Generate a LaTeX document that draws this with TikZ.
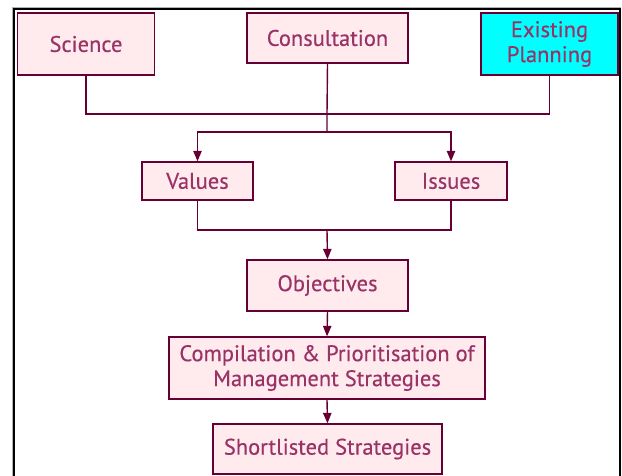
\documentclass[tikz,border=0pt]{standalone}
\usepackage{fontspec}
\setmainfont{PT Sans}
\newfontfamily\stagefont[FakeBold=0.4]{PT Sans}
\usepackage[x11names, rgb]{xcolor}
\usetikzlibrary{arrows}
\definecolor{boxline}{HTML}{660033}
\definecolor{boxtext}{HTML}{993366}
\definecolor{boxfill}{HTML}{FFEAEE}
\definecolor{planfill}{HTML}{00FFFF}

\tikzset{
	stagebox/.style={draw=boxline, line width=1.6pt, fill=boxfill, text=boxtext,
		font=\stagefont\fontsize{22.5}{25}\selectfont, align=center, inner sep=0pt},
	link/.style={draw=boxline, line width=1.4pt},
	flow/.style={link, -triangle 45}
}

\begin{document}
\begin{tikzpicture}[x=1pt, y=-1pt]
	\useasboundingbox (0,0) rectangle (622,475);
	\clip (0,0) rectangle (622,475);
	\draw [gray!60, line width=1pt] (12.5,7.5) rectangle (620.5,490);
	\draw [black, line width=2pt] (14,9) rectangle (619.5,490);
	% top row
	\node (sci) at (86,44) [stagebox, minimum width=137pt, minimum height=62pt] {Science};
	\node (cons) at (327.5,38) [stagebox, minimum width=161pt, minimum height=50pt] {Consultation};
	\node (plan) at (549.5,44) [stagebox, fill=planfill, minimum width=137pt, minimum height=62pt] {Existing\\Planning};
	% middle
	\node (val) at (197.5,181) [stagebox, minimum width=111pt, minimum height=38pt] {Values};
	\node (iss) at (451,181) [stagebox, minimum width=112pt, minimum height=38pt] {Issues};
	\node (obj) at (327.5,285.5) [stagebox, minimum width=161pt, minimum height=51pt] {Objectives};
	\node (comp) at (327,368) [stagebox, minimum width=316pt, minimum height=62pt] {Compilation \& Prioritisation of\\Management Strategies};
	\node (short) at (327.5,449) [stagebox, minimum width=229pt, minimum height=50pt] {Shortlisted Strategies};
	% joins
	\coordinate (join) at (327,114);
	\coordinate (split) at (327,132);
	\coordinate (merge) at (327,230);
	\draw [link] (sci.south) |- (join) -| (plan.south);
	\draw [link] (cons.south) -- (join) -- (split);
	\draw [flow] (split) -| (val.north);
	\draw [flow] (split) -| (iss.north);
	\draw [link] (val.south) |- (merge) -| (iss.south);
	\draw [flow] (merge) -- (obj.north);
	\draw [flow] (obj.south) -- (comp.north);
	\draw [flow] (comp.south) -- (short.north);
\end{tikzpicture}
\end{document}
